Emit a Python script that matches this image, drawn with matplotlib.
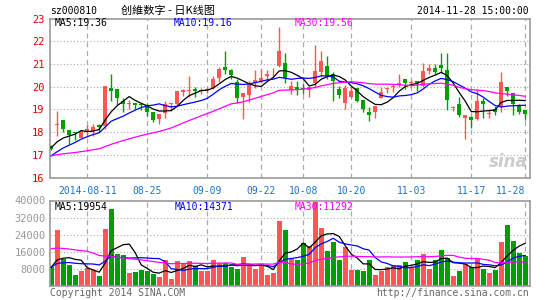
import matplotlib
matplotlib.use("Agg")
import matplotlib.pyplot as plt
import numpy as np
import pandas as pd

# --- daily candles 2014-08-01 .. 2014-11-28 ---
opens = [17.39, 18.33, 18.51, 18.09, 18.01, 17.76, 17.99, 18.03, 18.33, 18.28,
         19.93, 19.88, 19.37, 19.24, 19.30, 19.24, 19.15, 18.90, 18.56, 18.83,
         19.24, 19.23, 19.75, 19.83, 19.90, 19.80, 19.86, 19.96, 20.36, 20.85,
         20.75, 20.21, 19.56, 19.62, 20.15, 20.24, 20.45, 20.58, 20.93, 21.04,
         19.86, 19.99, 19.96, 19.86, 20.18, 20.63, 20.93, 20.55, 19.89, 19.26,
         19.56, 19.96, 19.41, 18.89, 18.90, 19.52, 19.91, 19.98, 20.09, 20.34,
         20.18, 20.27, 20.04, 20.68, 20.83, 20.94, 20.74, 19.06, 19.23, 18.63,
         18.66, 18.56, 19.35, 18.78, 19.00, 19.11, 20.00, 19.70, 19.15, 18.96]
highs = [17.43, 18.91, 18.51, 18.10, 18.02, 18.03, 18.33, 18.36, 18.36, 20.03,
         20.57, 19.88, 19.52, 19.40, 19.30, 19.30, 19.26, 18.90, 18.81, 19.35,
         19.26, 19.82, 19.90, 20.49, 19.97, 19.94, 19.97, 20.48, 20.85, 21.59,
         20.78, 20.33, 19.71, 20.26, 20.72, 20.79, 20.75, 20.80, 22.63, 21.49,
         20.26, 20.26, 20.18, 20.03, 21.82, 21.59, 21.34, 20.66, 20.03, 20.06,
         20.03, 19.96, 19.41, 19.12, 19.15, 19.97, 20.00, 20.12, 20.56, 20.34,
         20.30, 20.27, 21.04, 21.01, 20.98, 21.46, 21.49, 19.15, 19.55, 18.75,
         18.71, 19.90, 19.49, 19.00, 19.15, 20.64, 20.00, 19.70, 19.23, 18.96]
lows = [17.19, 17.84, 17.99, 17.49, 17.64, 17.76, 17.79, 17.84, 17.99, 18.13,
        19.37, 19.18, 18.88, 19.03, 19.00, 18.95, 18.71, 18.45, 18.37, 18.60,
        18.93, 19.15, 19.60, 19.55, 19.55, 19.67, 19.70, 19.89, 20.21, 20.55,
        20.33, 19.29, 18.58, 19.32, 19.96, 20.18, 20.25, 20.38, 20.85, 20.15,
        19.66, 19.62, 19.66, 19.56, 19.96, 20.41, 20.33, 19.37, 19.51, 19.02,
        19.51, 19.32, 18.88, 18.48, 18.63, 19.49, 19.70, 19.75, 19.97, 19.90,
        19.97, 19.79, 20.00, 20.56, 20.56, 20.59, 18.96, 18.93, 18.66, 17.71,
        18.19, 18.51, 18.60, 18.63, 18.75, 18.90, 19.60, 18.75, 18.78, 18.51]
closes = [17.24, 18.36, 18.13, 17.88, 17.94, 18.03, 18.13, 18.24, 18.24, 20.03,
          19.82, 19.48, 19.22, 19.26, 19.20, 19.18, 18.90, 18.53, 18.81, 19.23,
          19.26, 19.82, 19.85, 19.86, 19.79, 19.83, 19.88, 20.33, 20.78, 20.75,
          20.51, 19.51, 19.71, 20.15, 20.30, 20.39, 20.56, 20.62, 21.59, 20.36,
          20.03, 19.89, 19.89, 19.99, 20.70, 21.15, 20.48, 20.26, 19.63, 19.96,
          19.81, 19.37, 19.02, 18.74, 19.15, 19.75, 19.93, 20.00, 20.18, 20.15,
          20.20, 20.15, 20.71, 20.83, 20.64, 20.83, 19.41, 19.08, 18.75, 18.75,
          18.54, 19.35, 19.23, 18.85, 18.90, 20.19, 19.79, 19.23, 18.90, 18.81]
volumes = [8790, 25980, 12770, 9740, 4970, 6880, 8470, 7510, 4490, 26460,
           36010, 15140, 14520, 5920, 6400, 7350, 7000, 5440, 4010, 12130,
           3060, 11650, 10060, 11650, 9270, 6880, 6880, 12130, 10540, 10540,
           8950, 7830, 13560, 10060, 7830, 9740, 4970, 5920, 30280, 25980,
           12450, 11970, 19930, 18820, 39510, 27090, 16430, 20730, 12130, 18020,
           7350, 7350, 6880, 12130, 4970, 6880, 8790, 9740, 9740, 11180,
           8790, 12130, 15160, 7830, 12130, 16910, 13130, 4490, 6880, 10060,
           8790, 12770, 8150, 5920, 7350, 20730, 28370, 21200, 15630, 14040]

# estimated history before the window, only so the averages start where they do
prev_closes = [16.80, 16.90, 17.05, 17.10, 16.95, 16.85, 16.90, 17.00, 17.05, 16.95,
               16.90, 16.85, 16.95, 17.00, 17.05, 16.95, 16.90, 16.95, 17.00, 16.90,
               16.55, 16.50, 16.65, 16.70, 16.60, 17.05, 17.30, 17.45, 17.51]
prev_volumes = [16500, 18200, 17400, 16800, 17900, 17200, 33000, 38000, 35500, 34000,
                36500, 18000, 16500, 17200, 16000, 18500, 17000, 16800, 17500, 16200,
                8600, 9200, 8900, 8400, 8900, 9100, 8500, 8700, 8900]

date_labels = ["2014-08-11", "08-25", "09-09", "09-22", "10-08", "10-20", "11-03", "11-17", "11-28"]
date_pos = [6, 16, 26, 35, 42, 50, 60, 70, 79]
price_ticks = [16, 17, 18, 19, 20, 21, 22, 23]
vol_ticks = [8000, 16000, 24000, 32000, 40000]

RED = "#ff5555"
GREEN = "#009e00"
GRID = "#aaaaaa"
MONO = "DejaVu Sans Mono"


def ma(prev, vals, n):
    s = pd.Series(list(prev) + list(vals)).rolling(n).mean()
    return s.iloc[len(prev):].to_numpy()


def px(x, y):
    return x / 545, 1 - y / 300


o, h, l, c = map(np.array, (opens, highs, lows, closes))
v = np.array(volumes)
x = np.arange(len(c))
up = c >= o
cols = np.where(up, RED, GREEN)

fig = plt.figure(figsize=(5.45, 3.0), dpi=100)

# --- price panel ---
ax = fig.add_axes([50 / 545, 1 - 177.5 / 300, 480 / 545, 159 / 300])
ax.set_xlim(-0.2, 79.8)
ax.set_ylim(16, 23)
for p in price_ticks[1:-1]:
    ax.axhline(p, color=GRID, ls=(0, (1, 2)), lw=0.8, zorder=0)
for d in date_pos:
    ax.axvline(d, color=GRID, ls=(0, (4, 3)), lw=0.9, zorder=0)

ax.vlines(x, l, h, colors=cols, lw=1, zorder=2)
body = np.maximum(np.abs(c - o), 0.04)
ax.bar(x, body, bottom=np.minimum(o, c), width=0.72, color=cols, lw=0, zorder=3)

ax.plot(x, ma(prev_closes, closes, 5), color="black", lw=0.9, zorder=4)
ax.plot(x, ma(prev_closes, closes, 10), color="#0000ff", lw=0.9, zorder=4)
ax.plot(x, ma(prev_closes, closes, 30), color="#ff00ff", lw=0.9, zorder=4)

ax.set_yticks(price_ticks)
ax.set_yticklabels([str(p) for p in price_ticks], color="#e00000", family=MONO, fontsize=7.5)
ax.set_xticks([])
ax.tick_params(axis="y", length=0, pad=4)
for i, (d, lab) in enumerate(zip(date_pos, date_labels)):
    ha = "right" if i == len(date_pos) - 1 else "center"
    ax.text(d, -0.055, lab, transform=ax.get_xaxis_transform(), ha=ha, va="top",
            color="#1874cd", family=MONO, fontsize=7)
for s in ax.spines.values():
    s.set_color("#999999")
    s.set_linewidth(1.2)

ax.text(0.995, 0.1, "sina", transform=ax.transAxes, ha="right", va="center",
        color="#cccccc", fontsize=12, style="italic", weight="bold", zorder=1)

# --- volume panel ---
axv = fig.add_axes([50 / 545, 1 - 286 / 300, 480 / 545, 85.5 / 300])
axv.set_xlim(-0.2, 79.8)
axv.set_ylim(0, 40000)
for t in vol_ticks[:-1]:
    axv.axhline(t, color=GRID, ls=(0, (1, 2)), lw=0.8, zorder=0)
for d in date_pos:
    axv.axvline(d, color=GRID, ls=(0, (4, 3)), lw=0.9, zorder=0)
axv.bar(x, v, width=0.82, color=cols, lw=0, zorder=2)
axv.plot(x, ma(prev_volumes, volumes, 5), color="black", lw=0.9, zorder=3)
axv.plot(x, ma(prev_volumes, volumes, 10), color="#0000ff", lw=0.9, zorder=3)
axv.plot(x, ma(prev_volumes, volumes, 30), color="#ff00ff", lw=0.9, zorder=3)
axv.set_yticks(vol_ticks)
axv.set_yticklabels([str(t) for t in vol_ticks], color="#999999", family=MONO, fontsize=7.5)
axv.set_xticks([])
axv.tick_params(axis="y", length=0, pad=3)
for s in axv.spines.values():
    s.set_color("#999999")
    s.set_linewidth(1.2)

# --- texts ---
fig.text(*px(50, 11), "sz000810", family=MONO, fontsize=7, va="center")
fig.text(*px(121, 11), "创維数字 - 日K线图", family=["Noto Sans CJK SC", "DejaVu Sans"],
         fontsize=8, va="center")
fig.text(*px(529, 11), "2014-11-28 15:00:00", family=MONO, fontsize=7, va="center", ha="right")

fig.text(*px(55, 23.5), "MA5:19.36", family=MONO, fontsize=7, va="center", color="black")
fig.text(*px(174, 23.5), "MA10:19.16", family=MONO, fontsize=7, va="center", color="#0000ff")
fig.text(*px(295, 23.5), "MA30:19.56", family=MONO, fontsize=7, va="center", color="#ff00ff")

fig.text(*px(55, 206.5), "MA5:19954", family=MONO, fontsize=7, va="center", color="black")
fig.text(*px(175, 206.5), "MA10:14371", family=MONO, fontsize=7, va="center", color="#0000ff")
fig.text(*px(295, 206.5), "MA30:11292", family=MONO, fontsize=7, va="center", color="#ff00ff")

fig.text(*px(50, 292.5), "Copyright 2014 SINA.COM", family=MONO, fontsize=7, va="center", color="#666666")
fig.text(*px(529, 292.5), "http://finance.sina.com.cn", family=MONO, fontsize=7, va="center",
         ha="right", color="#666666")

fig.savefig("out.png", dpi=100)
